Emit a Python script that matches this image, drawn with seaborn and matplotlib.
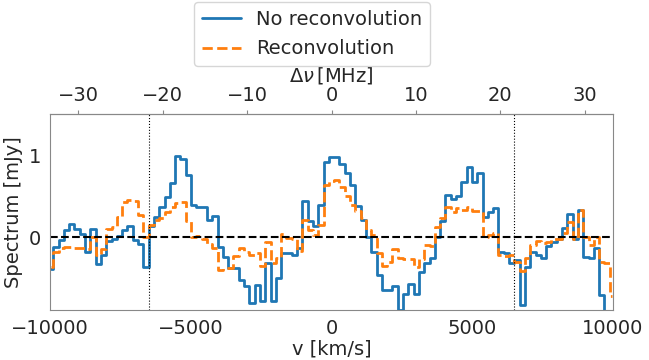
import numpy as np
import pandas as pd
import matplotlib
matplotlib.use("Agg")
import matplotlib.pyplot as plt
import seaborn as sns

# channel grid (km/s)
channel_width = 188.3
channel_index = np.arange(-53, 54)

no_reconv = [
    -0.39, -0.12, -0.04, 0.08, 0.16, 0.10, 0.04, -0.18, 0.10, -0.33,
    -0.22, -0.05, -0.03, 0.01, 0.08, 0.13, -0.04, -0.08, -0.36, 0.14,
    0.25, 0.37, 0.49, 0.66, 0.99, 0.95, 0.76, 0.39, 0.37, 0.37,
    0.21, 0.26, -0.12, -0.24, -0.38, -0.38, -0.52, -0.60, -0.81, -0.59,
    -0.78, -0.32, -0.78, -0.50, -0.19, -0.19, -0.22, -0.13, 0.44, 0.20,
    0.13, 0.39, 0.91, 0.98, 0.98, 0.89, 0.78, 0.63, 0.38, 0.21,
    0.00, -0.18, -0.46, -0.65, -0.65, -0.60, -0.89, -0.70, -0.57, -0.70,
    -0.43, -0.32, -0.25, 0.00, 0.19, 0.51, 0.46, 0.50, 0.67, 0.85,
    0.67, 0.78, 0.25, 0.30, 0.35, -0.18, -0.20, -0.32, -0.28, -0.83,
    -0.36, -0.18, -0.22, -0.26, -0.11, -0.06, -0.02, 0.11, 0.28, -0.03,
    0.33, -0.24, -0.26, -0.14, -0.71, -1.00, -1.00,
]

reconv = [
    -0.37, -0.18, -0.13, -0.12, -0.12, -0.13, -0.13, -0.15, 0.00, -0.22,
    -0.15, 0.10, 0.12, 0.24, 0.43, 0.45, 0.44, 0.27, 0.00, 0.15,
    0.21, 0.23, 0.30, 0.37, 0.42, 0.43, 0.20, 0.00, 0.01, -0.03,
    -0.08, -0.13, -0.40, -0.38, -0.38, -0.23, -0.14, -0.18, -0.22, -0.20,
    -0.35, -0.06, -0.32, -0.25, 0.04, -0.01, -0.02, -0.17, 0.21, 0.08,
    0.03, 0.15, 0.64, 0.68, 0.69, 0.61, 0.50, 0.39, 0.32, 0.23,
    0.08, 0.02, -0.20, -0.35, -0.31, -0.15, -0.25, -0.27, -0.27, -0.36,
    -0.27, -0.10, -0.11, 0.12, 0.23, 0.37, 0.31, 0.35, 0.33, 0.36,
    0.32, 0.32, 0.00, 0.02, 0.05, -0.22, -0.23, -0.22, -0.30, -0.42,
    -0.25, -0.10, -0.05, -0.07, -0.06, -0.03, -0.02, 0.05, 0.18, -0.03,
    0.33, 0.00, -0.10, 0.00, -0.30, -0.32, -0.72,
]

series_names = ["No reconvolution", "Reconvolution"]
vline_pos = [-6500, 6500]
bottom_ticks = [-10000, -5000, 0, 5000, 10000]
top_ticks = [-30, -20, -10, 0, 10, 20, 30]
y_ticks = [0, 1]
nu0_mhz = 1000.0
c_kms = 299792.458

velocity = channel_index * channel_width
df = pd.DataFrame({"v": velocity, "nr": no_reconv, "r": reconv})

sns.set_style("white")
plt.rcParams["font.family"] = ["DejaVu Sans"]
plt.rcParams["font.size"] = 14

fig = plt.figure(figsize=(6.49, 3.6), dpi=100)
ax = fig.add_axes([50 / 649, 1 - 310 / 360, 563 / 649, 196 / 360])

sns.lineplot(data=df, x="v", y="nr", ax=ax, drawstyle="steps-mid",
             color="#1f77b4", lw=2, label=series_names[0], legend=False)
sns.lineplot(data=df, x="v", y="r", ax=ax, drawstyle="steps-mid",
             color="#ff7f0e", lw=2, ls="--", label=series_names[1], legend=False)

ax.axhline(0, color="black", ls="--", lw=1.5)
for xv in vline_pos:
    ax.axvline(xv, color="black", ls=":", lw=0.8)

ax.set_xlim(-10000, 10000)
ax.set_ylim(-0.89, 1.5)
ax.set_xticks(bottom_ticks)
ax.set_yticks(y_ticks)
ax.set_xlabel("v [km/s]", fontsize=14, labelpad=1)
ax.set_ylabel("Spectrum [mJy]", fontsize=14, labelpad=4)
ax.tick_params(axis="both", labelsize=14, length=3, color="#888888")
for sp in ax.spines.values():
    sp.set_color("#888888")

sec = ax.secondary_xaxis("top",
                         functions=(lambda v: v / c_kms * nu0_mhz,
                                    lambda f: f / nu0_mhz * c_kms))
sec.set_xticks(top_ticks)
sec.set_xlabel(r"$\Delta\nu\,$[MHz]", fontsize=14, labelpad=3)
sec.tick_params(labelsize=14, length=3, color="#888888")
sec.spines["top"].set_color("#888888")

handles, labels = ax.get_legend_handles_labels()
fig.legend(handles, labels, loc="upper center",
           bbox_to_anchor=(312 / 649, 1.0), fontsize=14, frameon=True,
           borderaxespad=0.1, labelspacing=0.55)

fig.savefig("out.png", dpi=100)
